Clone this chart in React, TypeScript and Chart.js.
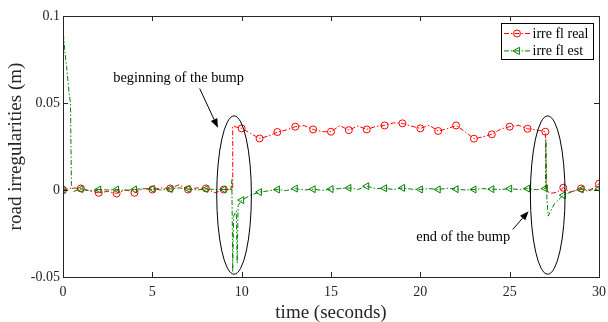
import React, { useEffect, useRef } from 'react';
import { Chart, registerables } from 'chart.js';

Chart.register(...registerables);

// ---- data ----
const realT = [0, 0.5, 1, 1.5, 2, 2.5, 3, 3.5, 4, 4.5, 5, 5.5, 6, 6.5, 7, 7.5, 8, 8.5, 9, 9.5, 9.5, 10, 10.5, 11, 11.5, 12, 12.5, 13, 13.5, 14, 14.5, 15, 15.5, 16, 16.5, 17, 17.5, 18, 18.5, 19, 19.5, 20, 20.5, 21, 21.5, 22, 22.5, 23, 23.5, 24, 24.5, 25, 25.5, 26, 26.5, 27, 27.05, 27.3, 27.6, 28, 28.4, 29, 29.4, 30];
const realV = [0, 0.0012, 0.0009, -0.0005, -0.0016, -0.0008, -0.002, 0.0002, -0.0016, 0.0008, 0.0003, 0.0012, 0.0009, 0.003, 0.0003, 0.0012, 0.0009, -0.0016, 0.0003, 0.0003, 0.0367, 0.0354, 0.0325, 0.0296, 0.031, 0.0333, 0.0345, 0.0364, 0.037, 0.0348, 0.0335, 0.0335, 0.037, 0.0344, 0.0368, 0.0348, 0.0365, 0.0371, 0.0386, 0.0383, 0.0367, 0.0354, 0.0372, 0.0339, 0.0352, 0.0371, 0.0335, 0.0295, 0.0305, 0.032, 0.035, 0.0364, 0.0372, 0.0352, 0.0345, 0.0335, -0.0005, -0.0018, -0.0015, 0.0013, -0.0012, 0.0009, -0.0008, 0.0036];

const estT = [0, 0.02, 0.1, 0.2, 0.35, 0.42, 0.47, 0.6, 1, 1.5, 2, 2.5, 3, 3.5, 4, 4.5, 5, 5.5, 6, 6.5, 7, 7.5, 8, 8.5, 9, 9.4, 9.45, 9.5, 9.55, 9.7, 9.75, 9.8, 10, 10.5, 11, 11.5, 12, 12.5, 13, 13.5, 14, 14.5, 15, 15.5, 16, 16.5, 17, 17.5, 18, 18.5, 19, 19.5, 20, 20.5, 21, 21.5, 22, 22.5, 23, 23.5, 24, 24.5, 25, 25.5, 26, 26.5, 27, 27.03, 27.08, 27.15, 27.3, 27.5, 28, 28.5, 29, 29.5, 30];
const estV = [0, 0.09, 0.08, 0.071, 0.055, 0.05, 0.003, -0.0008, 0.0005, -0.0005, 0.0003, 0, 0.0003, -0.0003, 0.0003, 0.0008, 0.0006, 0, 0.0006, 0.0012, 0.0006, 0, 0.0006, 0.0003, 0.0003, 0.0005, 0.006, -0.047, -0.015, -0.012, -0.042, -0.009, -0.0058, -0.003, -0.0012, -0.0005, 0.0003, -0.0003, 0.0008, 0, 0.0005, -0.0002, 0.0005, 0.0008, 0.0012, 0.0003, 0.0022, 0.0008, 0.001, 0.0003, 0.0012, 0.0005, 0.0003, 0.0008, 0.0003, 0.001, 0.0005, 0, 0.0003, 0.0008, 0.0005, 0.0003, 0.0008, 0.0003, 0.0008, 0.0002, 0.0009, 0.029, -0.004, -0.015, -0.012, -0.008, -0.003, -0.0008, 0.0003, 0, 0.0008];

const seriesNames = ['irre fl real', 'irre fl est'];
const xTicks = [0, 5, 10, 15, 20, 25, 30];
const yTicks = [-0.05, 0, 0.05, 0.1];
const yTickLabels = ['-0.05', '0', '0.05', '0.1'];
const xTitle = 'time (seconds)';
const yTitle = 'road irregularities (m)';

const noteTexts = ['beginning of the bump', 'end of the bump'];
const noteX = [6.47, 22.4];
const noteY = [0.0642, -0.027];
const ellipseX = [9.575, 27.13];
const ellipseY = [-0.0029, -0.0029];
const ellipseRX = [0.97, 0.97];
const ellipseRY = [0.0455, 0.0455];
const arrowFromX = [7.65, 25.17];
const arrowFromY = [0.0583, -0.0227];
const arrowToX = [8.67, 26.06];
const arrowToY = [0.0358, -0.0122];

// plot box in page pixels (layout only)
const AREA = { left: 63, top: 16, right: 599, bottom: 277 };

const FONT = '"Liberation Serif", "Times New Roman", serif';
const AXIS_COLOR = '#262626';
const RED = '#ff0000';
const GREEN = '#008000';
const DASH = [5, 2, 1.5, 2];

function drawCircleMarker(ctx: CanvasRenderingContext2D, x: number, y: number, r: number, color: string) {
  ctx.save();
  ctx.setLineDash([]);
  ctx.strokeStyle = color;
  ctx.lineWidth = 1;
  ctx.beginPath();
  ctx.arc(x, y, r, 0, Math.PI * 2);
  ctx.stroke();
  ctx.restore();
}

function drawTriMarker(ctx: CanvasRenderingContext2D, x: number, y: number, r: number, color: string) {
  ctx.save();
  ctx.setLineDash([]);
  ctx.strokeStyle = color;
  ctx.lineWidth = 1;
  ctx.beginPath();
  ctx.moveTo(x - r, y);
  ctx.lineTo(x + r * 0.6, y - r * 0.9);
  ctx.lineTo(x + r * 0.6, y + r * 0.9);
  ctx.closePath();
  ctx.stroke();
  ctx.restore();
}

const areaPlugin = {
  id: 'fixArea',
  afterLayout(chart: any) {
    const ca = chart.chartArea;
    ca.left = AREA.left;
    ca.right = AREA.right;
    ca.top = AREA.top;
    ca.bottom = AREA.bottom;
    ca.width = AREA.right - AREA.left;
    ca.height = AREA.bottom - AREA.top;
    const xs = chart.scales.x;
    const ys = chart.scales.y;
    xs.left = AREA.left;
    xs.right = AREA.right;
    xs.width = AREA.right - AREA.left;
    xs.top = AREA.bottom;
    xs.bottom = chart.height;
    xs.height = chart.height - AREA.bottom;
    ys.left = 0;
    ys.right = AREA.left;
    ys.width = AREA.left;
    ys.top = AREA.top;
    ys.bottom = AREA.bottom;
    ys.height = AREA.bottom - AREA.top;
    xs.configure();
    ys.configure();
    xs._labelItems = null;
    ys._labelItems = null;
  },
};

const decorPlugin = {
  id: 'decor',
  afterDatasetsDraw(chart: any) {
    const { ctx, chartArea } = chart;
    const xs = chart.scales.x;
    const ys = chart.scales.y;
    const { left, right, top, bottom } = chartArea;
    ctx.save();
    // frame
    ctx.setLineDash([]);
    ctx.strokeStyle = AXIS_COLOR;
    ctx.lineWidth = 1;
    ctx.strokeRect(left + 0.5, top + 0.5, right - left, bottom - top);
    // inward ticks
    const tl = 5;
    ctx.beginPath();
    xTicks.forEach((t) => {
      const px = Math.round(xs.getPixelForValue(t)) + 0.5;
      ctx.moveTo(px, bottom);
      ctx.lineTo(px, bottom - tl);
      ctx.moveTo(px, top);
      ctx.lineTo(px, top + tl);
    });
    yTicks.forEach((v) => {
      const py = Math.round(ys.getPixelForValue(v)) + 0.5;
      ctx.moveTo(left, py);
      ctx.lineTo(left + tl, py);
      ctx.moveTo(right, py);
      ctx.lineTo(right - tl, py);
    });
    ctx.stroke();

    // ellipses
    ctx.strokeStyle = '#000';
    ellipseX.forEach((ex, i) => {
      const cx = xs.getPixelForValue(ex);
      const cy = ys.getPixelForValue(ellipseY[i]);
      const rx = Math.abs(xs.getPixelForValue(ex + ellipseRX[i]) - cx);
      const ry = Math.abs(ys.getPixelForValue(ellipseY[i] + ellipseRY[i]) - cy);
      ctx.beginPath();
      ctx.ellipse(cx, cy, rx, ry, 0, 0, Math.PI * 2);
      ctx.stroke();
    });

    // arrows
    arrowFromX.forEach((fx, i) => {
      const x1 = xs.getPixelForValue(fx);
      const y1 = ys.getPixelForValue(arrowFromY[i]);
      const x2 = xs.getPixelForValue(arrowToX[i]);
      const y2 = ys.getPixelForValue(arrowToY[i]);
      const ang = Math.atan2(y2 - y1, x2 - x1);
      const hl = 9;
      const hw = 3.5;
      const bx = x2 - hl * Math.cos(ang);
      const by = y2 - hl * Math.sin(ang);
      ctx.strokeStyle = '#000';
      ctx.beginPath();
      ctx.moveTo(x1, y1);
      ctx.lineTo(bx, by);
      ctx.stroke();
      ctx.fillStyle = '#000';
      ctx.beginPath();
      ctx.moveTo(x2, y2);
      ctx.lineTo(bx + hw * Math.sin(ang), by - hw * Math.cos(ang));
      ctx.lineTo(bx - hw * Math.sin(ang), by + hw * Math.cos(ang));
      ctx.closePath();
      ctx.fill();
    });

    // notes
    ctx.fillStyle = '#000';
    ctx.font = `14.4px ${FONT}`;
    ctx.textAlign = 'center';
    ctx.textBaseline = 'middle';
    noteTexts.forEach((t, i) => {
      ctx.fillText(t, xs.getPixelForValue(noteX[i]), ys.getPixelForValue(noteY[i]));
    });

    // legend
    const lw = 92;
    const lh = 36;
    const lx = right - 6 - lw;
    const ly = top + 7;
    ctx.fillStyle = '#fff';
    ctx.fillRect(lx, ly, lw, lh);
    ctx.strokeStyle = '#000';
    ctx.lineWidth = 1;
    ctx.strokeRect(Math.round(lx) + 0.5, Math.round(ly) + 0.5, lw, lh);
    const colors = [RED, GREEN];
    seriesNames.forEach((name, i) => {
      const cy = ly + 10.5 + i * 17.4;
      ctx.strokeStyle = colors[i];
      ctx.setLineDash(DASH);
      ctx.beginPath();
      ctx.moveTo(lx + 3, cy);
      ctx.lineTo(lx + 29, cy);
      ctx.stroke();
      ctx.setLineDash([]);
      if (i === 0) drawCircleMarker(ctx, lx + 16, cy, 3.5, colors[i]);
      else drawTriMarker(ctx, lx + 16, cy, 4, colors[i]);
      ctx.fillStyle = '#000';
      ctx.font = `14px ${FONT}`;
      ctx.textAlign = 'left';
      ctx.textBaseline = 'middle';
      ctx.fillText(name, lx + 31.5, cy + 0.5);
    });
    ctx.restore();
  },
};

const markerRadius = (r: number) => (c: any) => {
  const x = c.raw ? c.raw.x : NaN;
  return Number.isInteger(x) ? r : 0;
};

export default function App() {
  const ref = useRef<HTMLCanvasElement>(null);
  useEffect(() => {
    if (!ref.current) return;
    const chart = new Chart(ref.current, {
      type: 'line',
      data: {
        datasets: [
          {
            label: seriesNames[0],
            data: realT.map((t, i) => ({ x: t, y: realV[i] })),
            borderColor: RED,
            borderWidth: 1,
            borderDash: DASH,
            pointStyle: 'circle',
            pointRadius: markerRadius(3.5),
            pointBorderColor: RED,
            pointBackgroundColor: 'rgba(0,0,0,0)',
            pointBorderWidth: 1,
            fill: false,
            tension: 0,
            order: 2,
          },
          {
            label: seriesNames[1],
            data: estT.map((t, i) => ({ x: t, y: estV[i] })),
            borderColor: GREEN,
            borderWidth: 1,
            borderDash: DASH,
            pointStyle: 'triangle',
            pointRotation: -90,
            pointRadius: markerRadius(4),
            pointBorderColor: GREEN,
            pointBackgroundColor: 'rgba(0,0,0,0)',
            pointBorderWidth: 1,
            fill: false,
            tension: 0,
            order: 1,
          },
        ],
      },
      options: {
        animation: false,
        responsive: true,
        maintainAspectRatio: false,
        layout: { padding: { top: 16, right: 8, left: 0, bottom: 0 } },
        plugins: {
          legend: { display: false },
          tooltip: { enabled: false },
        },
        scales: {
          x: {
            type: 'linear',
            min: 0,
            max: 30,
            grid: { display: false, drawTicks: false },
            border: { display: false },
            afterBuildTicks: (s: any) => {
              s.ticks = xTicks.map((v) => ({ value: v }));
            },
            ticks: {
              color: AXIS_COLOR,
              font: { family: FONT, size: 14 },
              padding: 7,
              maxRotation: 0,
              callback: (v: any) => String(v),
            },
            title: {
              display: true,
              text: xTitle,
              color: AXIS_COLOR,
              font: { family: FONT, size: 19 },
              padding: { top: 0, bottom: -2 },
            },
          },
          y: {
            type: 'linear',
            min: -0.05,
            max: 0.1,
            grid: { display: false, drawTicks: false },
            border: { display: false },
            afterBuildTicks: (s: any) => {
              s.ticks = yTicks.map((v) => ({ value: v }));
            },
            ticks: {
              color: AXIS_COLOR,
              font: { family: FONT, size: 14 },
              padding: 3,
              callback: (v: any) => {
                const i = yTicks.findIndex((t) => Math.abs(t - v) < 1e-9);
                return i >= 0 ? yTickLabels[i] : '';
              },
            },
            title: {
              display: true,
              text: yTitle,
              color: AXIS_COLOR,
              font: { family: FONT, size: 19 },
              padding: { top: 5, bottom: 0 },
            },
          },
        },
      },
      plugins: [areaPlugin, decorPlugin],
    });
    return () => chart.destroy();
  }, []);
  return (
    <div style={{ position: 'fixed', left: 0, top: 0, width: 608, height: 322, background: '#fff' }}>
      <canvas ref={ref} />
    </div>
  );
}
